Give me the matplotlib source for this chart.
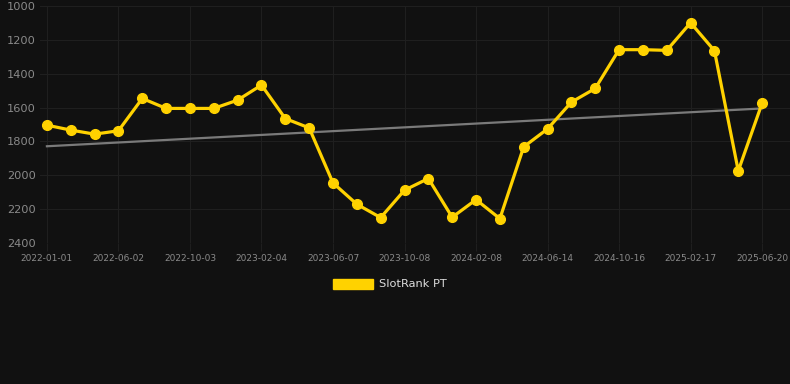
import matplotlib
matplotlib.use("Agg")
import matplotlib.pyplot as plt
import numpy as np

values = [1704, 1733, 1757, 1737, 1546, 1605, 1605, 1605, 1556, 1467,
          1665, 1720, 2045, 2171, 2250, 2088, 2019, 2248, 2144, 2256,
          1832, 1726, 1568, 1487, 1258, 1258, 1262, 1099, 1264, 1974, 1574]
tick_labels = ["2022-01-01", "2022-06-02", "2022-10-03", "2023-02-04", "2023-06-07",
               "2023-10-08", "2024-02-08", "2024-06-14", "2024-10-16", "2025-02-17",
               "2025-06-20"]
series_name = "SlotRank PT"
y_ticks = [1000, 1200, 1400, 1600, 1800, 2000, 2200, 2400]

bg = "#111111"
fig = plt.figure(figsize=(7.9, 3.84), dpi=100, facecolor=bg)
ax = fig.add_axes([40/790, 1-243/384, 750/790, 237/384])
ax.set_facecolor(bg)

x = np.arange(len(values))
coef = np.polyfit(x, values, 1)
ax.plot(x, np.polyval(coef, x), color="#7a7a7a", lw=1.6, zorder=2)
ax.plot(x, values, color="#FFD200", lw=2.3, marker="o", ms=7, zorder=3,
        label=series_name)

ax.set_xlim(-0.29, 31.17)
ax.set_ylim(2400, 1000)
ax.set_yticks(y_ticks)
ax.set_xticks(x[::3])
ax.set_xticklabels(tick_labels)
ax.grid(True, color="#1f1f1f", lw=0.8)
for s in ax.spines.values():
    s.set_visible(False)
ax.tick_params(axis="y", length=0, pad=3, labelsize=8.2, labelcolor="#8a8a8a")
ax.tick_params(axis="x", length=6, color="#1f1f1f", pad=2, labelsize=6.5,
               labelcolor="#8a8a8a")

leg = fig.legend(handles=[plt.Rectangle((0, 0), 1, 1, color="#FFD200")],
                 labels=[series_name], loc="center", bbox_to_anchor=(390/790, 1-284/384),
                 frameon=False, handlelength=3.5, handleheight=1.0, fontsize=8.2,
                 handletextpad=0.5)
for t in leg.get_texts():
    t.set_color("#dddddd")

fig.savefig("out.png", dpi=100, facecolor=bg)
